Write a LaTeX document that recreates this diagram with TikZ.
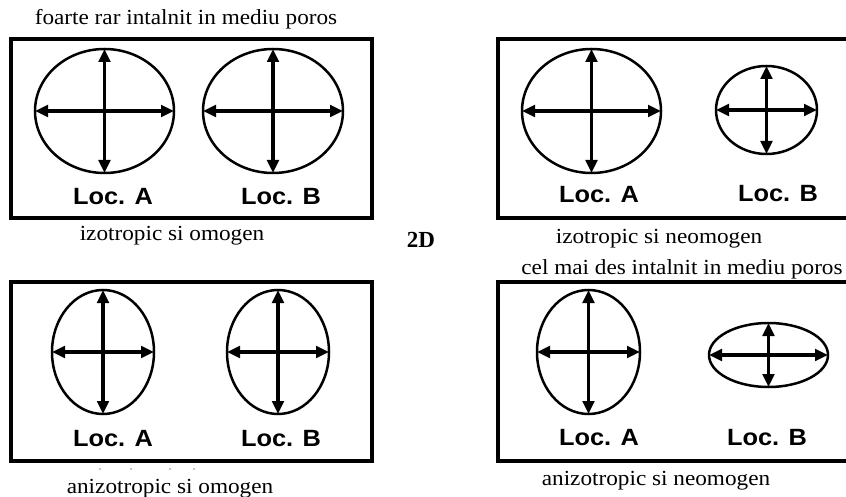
\documentclass[tikz,border=0pt]{standalone}
\usepackage{fontspec}
\setmainfont{Liberation Serif}
\newfontfamily\arialfont{Liberation Sans}
\usetikzlibrary{shapes.geometric,arrows.meta}
\begin{document}
\begin{tikzpicture}[x=1pt,y=-1pt,
  panel/.style={draw,line width=3.6pt},
  blob/.style={draw,ellipse,line width=2.5pt,inner sep=0pt,outer sep=0pt},
  axis/.style={line width=3.4pt,{Triangle[length=13pt,width=11.5pt]}-{Triangle[length=13pt,width=11.5pt]}},
  loclabel/.style={font=\arialfont\bfseries\fontsize{23.5}{26}\selectfont,xscale=1.08,transform shape,inner sep=0pt},
  caption/.style={font=\fontsize{21.5}{24}\selectfont,xscale=1.08,transform shape,inner sep=0pt}]
\useasboundingbox (0,0) rectangle (846,497);
% panels
\draw[panel] (11,39) rectangle (372,218);
\draw[panel] (498,39) rectangle (880,218);
\draw[panel] (11,282) rectangle (372,461);
\draw[panel] (498,282) rectangle (880,461);
% top-left panel
\node[blob,minimum width=139pt,minimum height=124pt] (tlA) at (104.5,111) {};
\node[blob,minimum width=140pt,minimum height=124pt] (tlB) at (273,111) {};
% top-right panel
\node[blob,minimum width=139pt,minimum height=124pt] (trA) at (591.5,111) {};
\node[blob,minimum width=101pt,minimum height=88pt] (trB) at (766.5,110) {};
% bottom-left panel
\node[blob,minimum width=102pt,minimum height=124pt] (blA) at (103,352) {};
\node[blob,minimum width=102pt,minimum height=124pt] (blB) at (278,352) {};
% bottom-right panel
\node[blob,minimum width=103pt,minimum height=124pt] (brA) at (588.5,352) {};
\node[blob,minimum width=119pt,minimum height=64pt] (brB) at (768.5,355) {};
\foreach \e in {tlA,tlB,trA,trB,blA,blB,brA,brB}{
  \draw[axis] (\e.west) -- (\e.east);
  \draw[axis] (\e.north) -- (\e.south);
}
% labels
\node[loclabel] (ltlA) at (113,197) {Loc. A};
\node[loclabel] (ltlB) at (281,197) {Loc. B};
\node[loclabel] (ltrA) at (599,195) {Loc. A};
\node[loclabel] (ltrB) at (778,194) {Loc. B};
\node[loclabel] (lblA) at (113,439) {Loc. A};
\node[loclabel] (lblB) at (281,439) {Loc. B};
\node[loclabel] (lbrA) at (599,438) {Loc. A};
\node[loclabel] (lbrB) at (767,438) {Loc. B};
% captions
\node[caption] (c1) at (186,19) {foarte rar intalnit in mediu poros};
\node[caption] (c2) at (172,236) {izotropic si omogen};
\node[caption] (c3) at (659,239) {izotropic si neomogen};
\node[caption,fill=white,inner sep=1pt] (c4) at (682,269) {cel mai des intalnit in mediu poros};
\node[caption] (c5) at (170,489) {anizotropic si omogen};
\node[caption] (c6) at (656,481) {anizotropic si neomogen};
\node[font=\bfseries\fontsize{23}{26}\selectfont,inner sep=0pt] (twoD) at (421,240) {2D};
% stray dots
\foreach \dx in {100,131,170,194}{
  \fill (\dx,469) circle (0.6pt);
}
\end{tikzpicture}
\end{document}
